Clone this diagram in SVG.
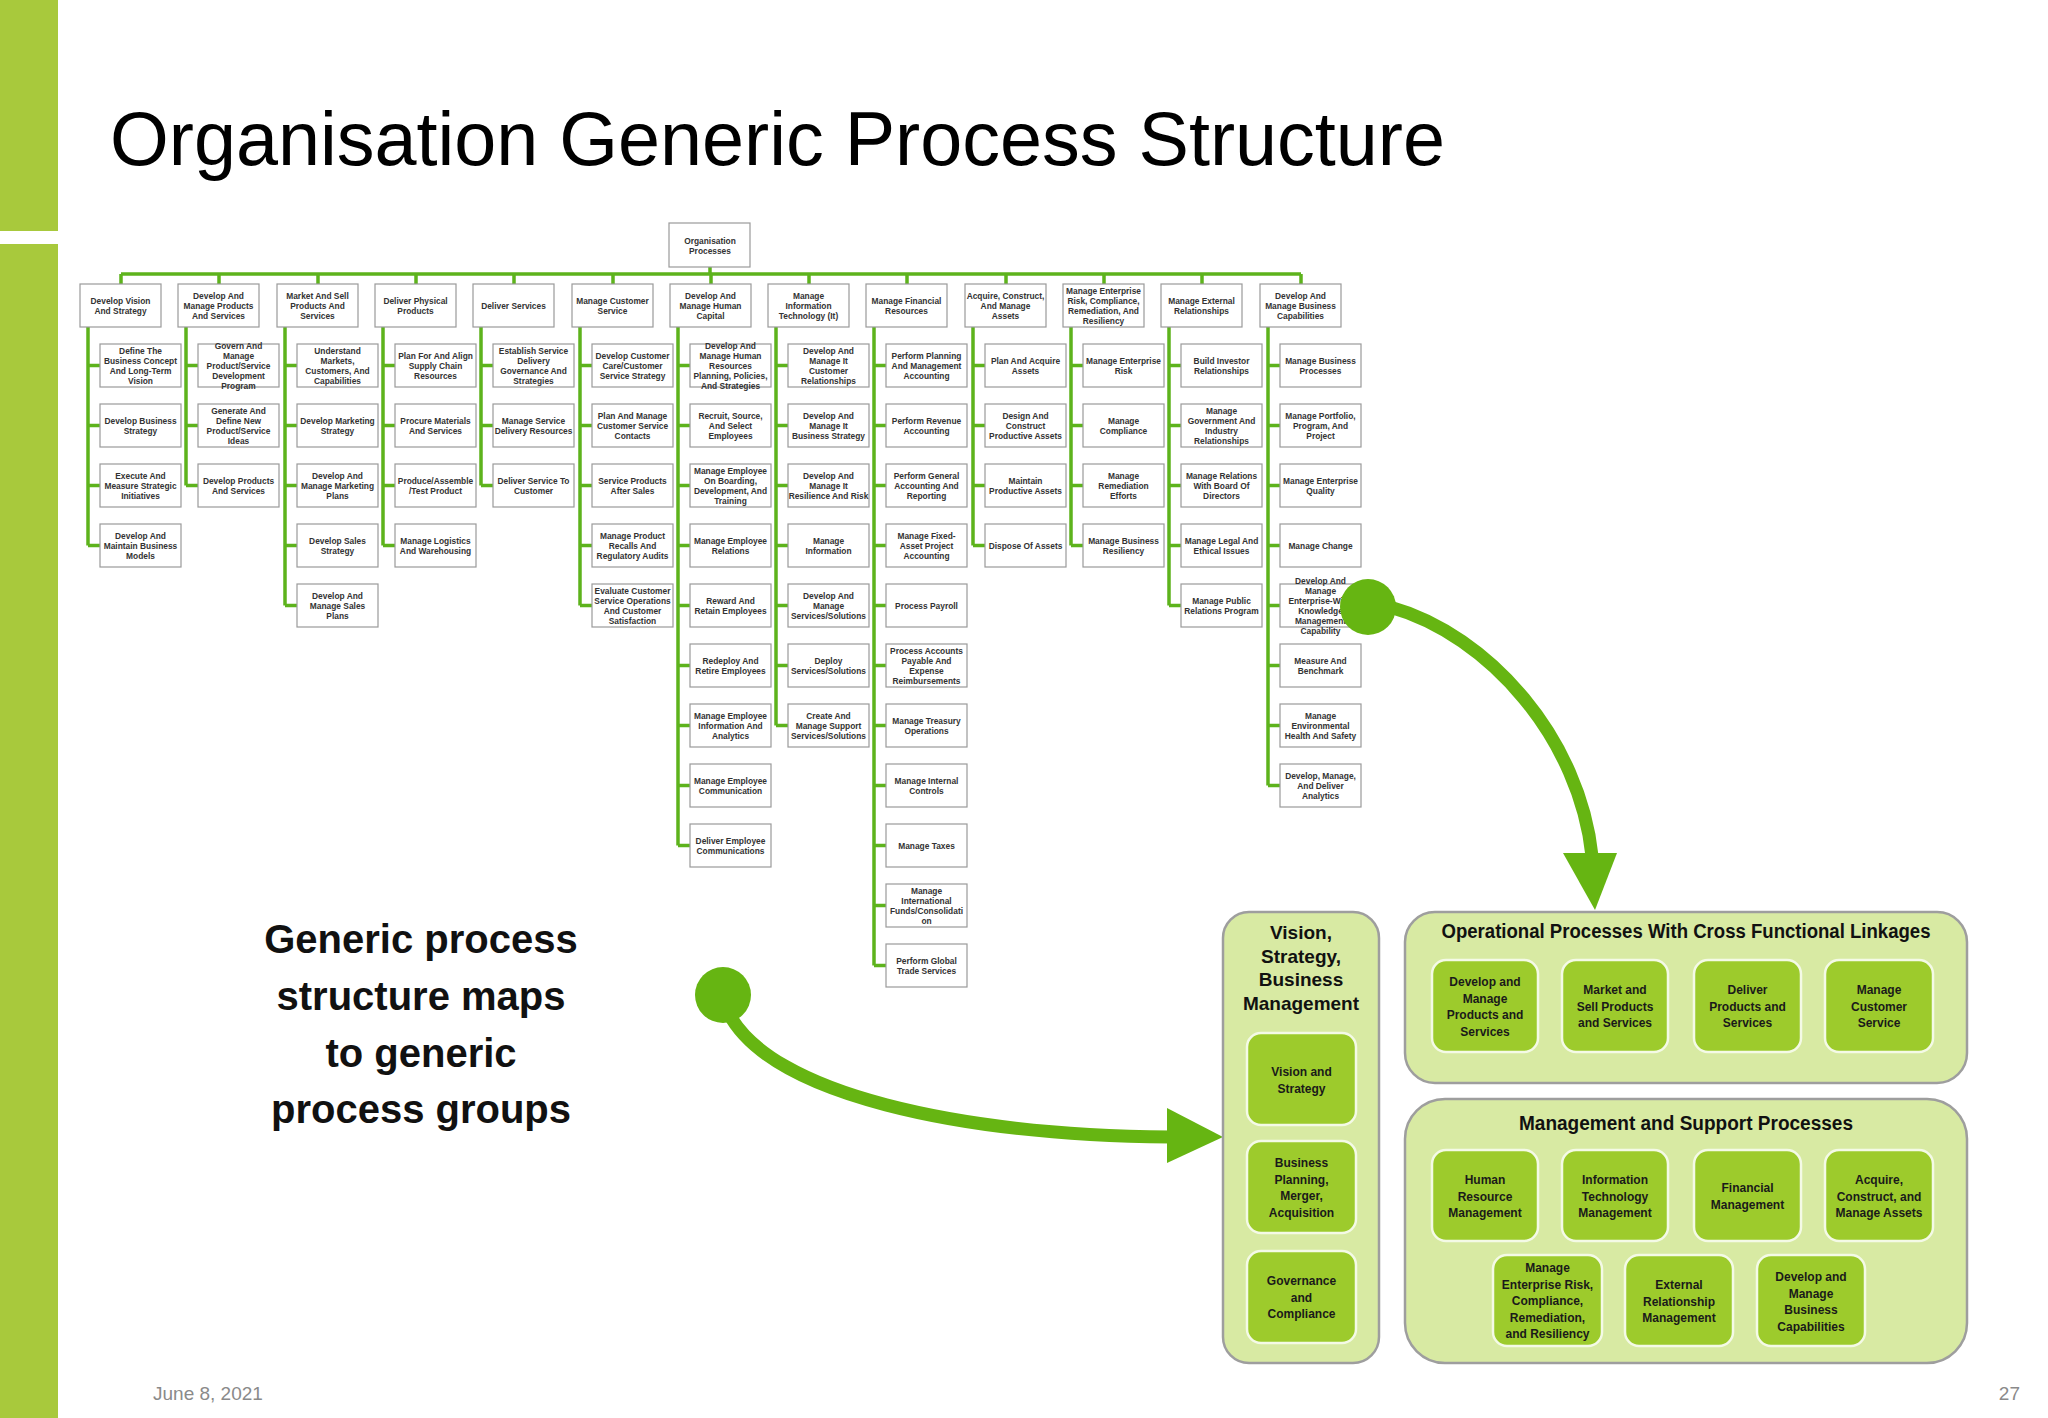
<svg xmlns="http://www.w3.org/2000/svg" width="2048" height="1418" viewBox="0 0 2048 1418">
<style>
.b{fill:#fff;stroke:#9a9a9a;stroke-width:1.2}
.t{font-family:"Liberation Sans",Arial,sans-serif;font-weight:bold;font-size:8.4px;fill:#333;text-anchor:middle}
.ln{fill:none;stroke:#5DB31C;stroke-width:3.5}
.p{fill:#D8EAA3;stroke:#9E9E9E;stroke-width:2.5}
.q{fill:#9DCB2C;stroke:#F4FAE6;stroke-width:2.5}
.h{font-family:"Liberation Sans",Arial,sans-serif;font-weight:bold;fill:#111;text-anchor:middle}
.i{font-family:"Liberation Sans",Arial,sans-serif;font-weight:bold;font-size:12px;fill:#1a1a1a;text-anchor:middle}
.ar{fill:none;stroke:#66B512;stroke-width:13}
</style>
<rect x="0" y="0" width="58" height="231" fill="#A8C93C"/>
<rect x="0" y="244" width="58" height="1174" fill="#A8C93C"/>
<text x="110" y="165" font-family="Liberation Sans,Arial,sans-serif" font-size="76" fill="#000" textLength="1335" lengthAdjust="spacingAndGlyphs">Organisation Generic Process Structure</text>

<g id="connectors">
<path class="ln" d="M710 267V274M121 274H1301M121 274V284M219 274V284M318 274V284M416 274V284M514 274V284M613 274V284M711 274V284M809 274V284M907 274V284M1006 274V284M1104 274V284M1202 274V284M1301 274V284"/>
<path class="ln" d="M88 327V545.5M88 365.5H100M88 425.5H100M88 485.5H100M88 545.5H100
M186 327V485.5M186 365.5H198M186 425.5H198M186 485.5H198
M285 327V605.5M285 365.5H297M285 425.5H297M285 485.5H297M285 545.5H297M285 605.5H297
M383 327V545.5M383 365.5H395M383 425.5H395M383 485.5H395M383 545.5H395
M481 327V485.5M481 365.5H493M481 425.5H493M481 485.5H493
M580 327V605.5M580 365.5H592M580 425.5H592M580 485.5H592M580 545.5H592M580 605.5H592
M678 327V845.5M678 365.5H690M678 425.5H690M678 485.5H690M678 545.5H690M678 605.5H690M678 665.5H690M678 725.5H690M678 785.5H690M678 845.5H690
M776 327V725.5M776 365.5H788M776 425.5H788M776 485.5H788M776 545.5H788M776 605.5H788M776 665.5H788M776 725.5H788
M874 327V965.5M874 365.5H886M874 425.5H886M874 485.5H886M874 545.5H886M874 605.5H886M874 665.5H886M874 725.5H886M874 785.5H886M874 845.5H886M874 905.5H886M874 965.5H886
M973 327V545.5M973 365.5H985M973 425.5H985M973 485.5H985M973 545.5H985
M1071 327V545.5M1071 365.5H1083M1071 425.5H1083M1071 485.5H1083M1071 545.5H1083
M1169 327V605.5M1169 365.5H1181M1169 425.5H1181M1169 485.5H1181M1169 545.5H1181M1169 605.5H1181
M1268 327V785.5M1268 365.5H1280M1268 425.5H1280M1268 485.5H1280M1268 545.5H1280M1268 605.5H1280M1268 665.5H1280M1268 725.5H1280M1268 785.5H1280"/>
</g>

<g id="root"><rect class="b" x="669" y="223" width="81" height="44"/><text class="t" y="243.5"><tspan x="710">Organisation</tspan><tspan x="710" dy="10">Processes</tspan></text></g>

<g id="c0"><rect class="b" x="80" y="284" width="81" height="43"/><text class="t" y="303.5"><tspan x="120.5">Develop Vision</tspan><tspan x="120.5" dy="10">And Strategy</tspan></text></g>
<g id="c0a"><rect class="b" x="100" y="344" width="81" height="43"/><text class="t" y="353.5"><tspan x="140.5">Define The</tspan><tspan x="140.5" dy="10">Business Concept</tspan><tspan x="140.5" dy="10">And Long-Term</tspan><tspan x="140.5" dy="10">Vision</tspan></text></g>
<g id="c0b"><rect class="b" x="100" y="404" width="81" height="43"/><text class="t" y="423.5"><tspan x="140.5">Develop Business</tspan><tspan x="140.5" dy="10">Strategy</tspan></text></g>
<g id="c0c"><rect class="b" x="100" y="464" width="81" height="43"/><text class="t" y="478.5"><tspan x="140.5">Execute And</tspan><tspan x="140.5" dy="10">Measure Strategic</tspan><tspan x="140.5" dy="10">Initiatives</tspan></text></g>
<g id="c0d"><rect class="b" x="100" y="524" width="81" height="43"/><text class="t" y="538.5"><tspan x="140.5">Develop And</tspan><tspan x="140.5" dy="10">Maintain Business</tspan><tspan x="140.5" dy="10">Models</tspan></text></g>
<g id="c1"><rect class="b" x="178" y="284" width="81" height="43"/><text class="t" y="298.5"><tspan x="218.5">Develop And</tspan><tspan x="218.5" dy="10">Manage Products</tspan><tspan x="218.5" dy="10">And Services</tspan></text></g>
<g id="c1a"><rect class="b" x="198" y="344" width="81" height="43"/><text class="t" y="348.5"><tspan x="238.5">Govern And</tspan><tspan x="238.5" dy="10">Manage</tspan><tspan x="238.5" dy="10">Product/Service</tspan><tspan x="238.5" dy="10">Development</tspan><tspan x="238.5" dy="10">Program</tspan></text></g>
<g id="c1b"><rect class="b" x="198" y="404" width="81" height="43"/><text class="t" y="413.5"><tspan x="238.5">Generate And</tspan><tspan x="238.5" dy="10">Define New</tspan><tspan x="238.5" dy="10">Product/Service</tspan><tspan x="238.5" dy="10">Ideas</tspan></text></g>
<g id="c1c"><rect class="b" x="198" y="464" width="81" height="43"/><text class="t" y="483.5"><tspan x="238.5">Develop Products</tspan><tspan x="238.5" dy="10">And Services</tspan></text></g>
<g id="c2"><rect class="b" x="277" y="284" width="81" height="43"/><text class="t" y="298.5"><tspan x="317.5">Market And Sell</tspan><tspan x="317.5" dy="10">Products And</tspan><tspan x="317.5" dy="10">Services</tspan></text></g>
<g id="c2a"><rect class="b" x="297" y="344" width="81" height="43"/><text class="t" y="353.5"><tspan x="337.5">Understand</tspan><tspan x="337.5" dy="10">Markets,</tspan><tspan x="337.5" dy="10">Customers, And</tspan><tspan x="337.5" dy="10">Capabilities</tspan></text></g>
<g id="c2b"><rect class="b" x="297" y="404" width="81" height="43"/><text class="t" y="423.5"><tspan x="337.5">Develop Marketing</tspan><tspan x="337.5" dy="10">Strategy</tspan></text></g>
<g id="c2c"><rect class="b" x="297" y="464" width="81" height="43"/><text class="t" y="478.5"><tspan x="337.5">Develop And</tspan><tspan x="337.5" dy="10">Manage Marketing</tspan><tspan x="337.5" dy="10">Plans</tspan></text></g>
<g id="c2d"><rect class="b" x="297" y="524" width="81" height="43"/><text class="t" y="543.5"><tspan x="337.5">Develop Sales</tspan><tspan x="337.5" dy="10">Strategy</tspan></text></g>
<g id="c2e"><rect class="b" x="297" y="584" width="81" height="43"/><text class="t" y="598.5"><tspan x="337.5">Develop And</tspan><tspan x="337.5" dy="10">Manage Sales</tspan><tspan x="337.5" dy="10">Plans</tspan></text></g>
<g id="c3"><rect class="b" x="375" y="284" width="81" height="43"/><text class="t" y="303.5"><tspan x="415.5">Deliver Physical</tspan><tspan x="415.5" dy="10">Products</tspan></text></g>
<g id="c3a"><rect class="b" x="395" y="344" width="81" height="43"/><text class="t" y="358.5"><tspan x="435.5">Plan For And Align</tspan><tspan x="435.5" dy="10">Supply Chain</tspan><tspan x="435.5" dy="10">Resources</tspan></text></g>
<g id="c3b"><rect class="b" x="395" y="404" width="81" height="43"/><text class="t" y="423.5"><tspan x="435.5">Procure Materials</tspan><tspan x="435.5" dy="10">And Services</tspan></text></g>
<g id="c3c"><rect class="b" x="395" y="464" width="81" height="43"/><text class="t" y="483.5"><tspan x="435.5">Produce/Assemble</tspan><tspan x="435.5" dy="10">/Test Product</tspan></text></g>
<g id="c3d"><rect class="b" x="395" y="524" width="81" height="43"/><text class="t" y="543.5"><tspan x="435.5">Manage Logistics</tspan><tspan x="435.5" dy="10">And Warehousing</tspan></text></g>
<g id="c4"><rect class="b" x="473" y="284" width="81" height="43"/><text class="t" y="308.5"><tspan x="513.5">Deliver Services</tspan></text></g>
<g id="c4a"><rect class="b" x="493" y="344" width="81" height="43"/><text class="t" y="353.5"><tspan x="533.5">Establish Service</tspan><tspan x="533.5" dy="10">Delivery</tspan><tspan x="533.5" dy="10">Governance And</tspan><tspan x="533.5" dy="10">Strategies</tspan></text></g>
<g id="c4b"><rect class="b" x="493" y="404" width="81" height="43"/><text class="t" y="423.5"><tspan x="533.5">Manage Service</tspan><tspan x="533.5" dy="10">Delivery Resources</tspan></text></g>
<g id="c4c"><rect class="b" x="493" y="464" width="81" height="43"/><text class="t" y="483.5"><tspan x="533.5">Deliver Service To</tspan><tspan x="533.5" dy="10">Customer</tspan></text></g>
<g id="c5"><rect class="b" x="572" y="284" width="81" height="43"/><text class="t" y="303.5"><tspan x="612.5">Manage Customer</tspan><tspan x="612.5" dy="10">Service</tspan></text></g>
<g id="c5a"><rect class="b" x="592" y="344" width="81" height="43"/><text class="t" y="358.5"><tspan x="632.5">Develop Customer</tspan><tspan x="632.5" dy="10">Care/Customer</tspan><tspan x="632.5" dy="10">Service Strategy</tspan></text></g>
<g id="c5b"><rect class="b" x="592" y="404" width="81" height="43"/><text class="t" y="418.5"><tspan x="632.5">Plan And Manage</tspan><tspan x="632.5" dy="10">Customer Service</tspan><tspan x="632.5" dy="10">Contacts</tspan></text></g>
<g id="c5c"><rect class="b" x="592" y="464" width="81" height="43"/><text class="t" y="483.5"><tspan x="632.5">Service Products</tspan><tspan x="632.5" dy="10">After Sales</tspan></text></g>
<g id="c5d"><rect class="b" x="592" y="524" width="81" height="43"/><text class="t" y="538.5"><tspan x="632.5">Manage Product</tspan><tspan x="632.5" dy="10">Recalls And</tspan><tspan x="632.5" dy="10">Regulatory Audits</tspan></text></g>
<g id="c5e"><rect class="b" x="592" y="584" width="81" height="43"/><text class="t" y="593.5"><tspan x="632.5">Evaluate Customer</tspan><tspan x="632.5" dy="10">Service Operations</tspan><tspan x="632.5" dy="10">And Customer</tspan><tspan x="632.5" dy="10">Satisfaction</tspan></text></g>
<g id="c6"><rect class="b" x="670" y="284" width="81" height="43"/><text class="t" y="298.5"><tspan x="710.5">Develop And</tspan><tspan x="710.5" dy="10">Manage Human</tspan><tspan x="710.5" dy="10">Capital</tspan></text></g>
<g id="c6a"><rect class="b" x="690" y="344" width="81" height="43"/><text class="t" y="348.5"><tspan x="730.5">Develop And</tspan><tspan x="730.5" dy="10">Manage Human</tspan><tspan x="730.5" dy="10">Resources</tspan><tspan x="730.5" dy="10">Planning, Policies,</tspan><tspan x="730.5" dy="10">And Strategies</tspan></text></g>
<g id="c6b"><rect class="b" x="690" y="404" width="81" height="43"/><text class="t" y="418.5"><tspan x="730.5">Recruit, Source,</tspan><tspan x="730.5" dy="10">And Select</tspan><tspan x="730.5" dy="10">Employees</tspan></text></g>
<g id="c6c"><rect class="b" x="690" y="464" width="81" height="43"/><text class="t" y="473.5"><tspan x="730.5">Manage Employee</tspan><tspan x="730.5" dy="10">On Boarding,</tspan><tspan x="730.5" dy="10">Development, And</tspan><tspan x="730.5" dy="10">Training</tspan></text></g>
<g id="c6d"><rect class="b" x="690" y="524" width="81" height="43"/><text class="t" y="543.5"><tspan x="730.5">Manage Employee</tspan><tspan x="730.5" dy="10">Relations</tspan></text></g>
<g id="c6e"><rect class="b" x="690" y="584" width="81" height="43"/><text class="t" y="603.5"><tspan x="730.5">Reward And</tspan><tspan x="730.5" dy="10">Retain Employees</tspan></text></g>
<g id="c6f"><rect class="b" x="690" y="644" width="81" height="43"/><text class="t" y="663.5"><tspan x="730.5">Redeploy And</tspan><tspan x="730.5" dy="10">Retire Employees</tspan></text></g>
<g id="c6g"><rect class="b" x="690" y="704" width="81" height="43"/><text class="t" y="718.5"><tspan x="730.5">Manage Employee</tspan><tspan x="730.5" dy="10">Information And</tspan><tspan x="730.5" dy="10">Analytics</tspan></text></g>
<g id="c6h"><rect class="b" x="690" y="764" width="81" height="43"/><text class="t" y="783.5"><tspan x="730.5">Manage Employee</tspan><tspan x="730.5" dy="10">Communication</tspan></text></g>
<g id="c6i"><rect class="b" x="690" y="824" width="81" height="43"/><text class="t" y="843.5"><tspan x="730.5">Deliver Employee</tspan><tspan x="730.5" dy="10">Communications</tspan></text></g>
<g id="c7"><rect class="b" x="768" y="284" width="81" height="43"/><text class="t" y="298.5"><tspan x="808.5">Manage</tspan><tspan x="808.5" dy="10">Information</tspan><tspan x="808.5" dy="10">Technology (It)</tspan></text></g>
<g id="c7a"><rect class="b" x="788" y="344" width="81" height="43"/><text class="t" y="353.5"><tspan x="828.5">Develop And</tspan><tspan x="828.5" dy="10">Manage It</tspan><tspan x="828.5" dy="10">Customer</tspan><tspan x="828.5" dy="10">Relationships</tspan></text></g>
<g id="c7b"><rect class="b" x="788" y="404" width="81" height="43"/><text class="t" y="418.5"><tspan x="828.5">Develop And</tspan><tspan x="828.5" dy="10">Manage It</tspan><tspan x="828.5" dy="10">Business Strategy</tspan></text></g>
<g id="c7c"><rect class="b" x="788" y="464" width="81" height="43"/><text class="t" y="478.5"><tspan x="828.5">Develop And</tspan><tspan x="828.5" dy="10">Manage It</tspan><tspan x="828.5" dy="10">Resilience And Risk</tspan></text></g>
<g id="c7d"><rect class="b" x="788" y="524" width="81" height="43"/><text class="t" y="543.5"><tspan x="828.5">Manage</tspan><tspan x="828.5" dy="10">Information</tspan></text></g>
<g id="c7e"><rect class="b" x="788" y="584" width="81" height="43"/><text class="t" y="598.5"><tspan x="828.5">Develop And</tspan><tspan x="828.5" dy="10">Manage</tspan><tspan x="828.5" dy="10">Services/Solutions</tspan></text></g>
<g id="c7f"><rect class="b" x="788" y="644" width="81" height="43"/><text class="t" y="663.5"><tspan x="828.5">Deploy</tspan><tspan x="828.5" dy="10">Services/Solutions</tspan></text></g>
<g id="c7g"><rect class="b" x="788" y="704" width="81" height="43"/><text class="t" y="718.5"><tspan x="828.5">Create And</tspan><tspan x="828.5" dy="10">Manage Support</tspan><tspan x="828.5" dy="10">Services/Solutions</tspan></text></g>
<g id="c8"><rect class="b" x="866" y="284" width="81" height="43"/><text class="t" y="303.5"><tspan x="906.5">Manage Financial</tspan><tspan x="906.5" dy="10">Resources</tspan></text></g>
<g id="c8a"><rect class="b" x="886" y="344" width="81" height="43"/><text class="t" y="358.5"><tspan x="926.5">Perform Planning</tspan><tspan x="926.5" dy="10">And Management</tspan><tspan x="926.5" dy="10">Accounting</tspan></text></g>
<g id="c8b"><rect class="b" x="886" y="404" width="81" height="43"/><text class="t" y="423.5"><tspan x="926.5">Perform Revenue</tspan><tspan x="926.5" dy="10">Accounting</tspan></text></g>
<g id="c8c"><rect class="b" x="886" y="464" width="81" height="43"/><text class="t" y="478.5"><tspan x="926.5">Perform General</tspan><tspan x="926.5" dy="10">Accounting And</tspan><tspan x="926.5" dy="10">Reporting</tspan></text></g>
<g id="c8d"><rect class="b" x="886" y="524" width="81" height="43"/><text class="t" y="538.5"><tspan x="926.5">Manage Fixed-</tspan><tspan x="926.5" dy="10">Asset Project</tspan><tspan x="926.5" dy="10">Accounting</tspan></text></g>
<g id="c8e"><rect class="b" x="886" y="584" width="81" height="43"/><text class="t" y="608.5"><tspan x="926.5">Process Payroll</tspan></text></g>
<g id="c8f"><rect class="b" x="886" y="644" width="81" height="43"/><text class="t" y="653.5"><tspan x="926.5">Process Accounts</tspan><tspan x="926.5" dy="10">Payable And</tspan><tspan x="926.5" dy="10">Expense</tspan><tspan x="926.5" dy="10">Reimbursements</tspan></text></g>
<g id="c8g"><rect class="b" x="886" y="704" width="81" height="43"/><text class="t" y="723.5"><tspan x="926.5">Manage Treasury</tspan><tspan x="926.5" dy="10">Operations</tspan></text></g>
<g id="c8h"><rect class="b" x="886" y="764" width="81" height="43"/><text class="t" y="783.5"><tspan x="926.5">Manage Internal</tspan><tspan x="926.5" dy="10">Controls</tspan></text></g>
<g id="c8i"><rect class="b" x="886" y="824" width="81" height="43"/><text class="t" y="848.5"><tspan x="926.5">Manage Taxes</tspan></text></g>
<g id="c8j"><rect class="b" x="886" y="884" width="81" height="43"/><text class="t" y="893.5"><tspan x="926.5">Manage</tspan><tspan x="926.5" dy="10">International</tspan><tspan x="926.5" dy="10">Funds/Consolidati</tspan><tspan x="926.5" dy="10">on</tspan></text></g>
<g id="c8k"><rect class="b" x="886" y="944" width="81" height="43"/><text class="t" y="963.5"><tspan x="926.5">Perform Global</tspan><tspan x="926.5" dy="10">Trade Services</tspan></text></g>
<g id="c9"><rect class="b" x="965" y="284" width="81" height="43"/><text class="t" y="298.5"><tspan x="1005.5">Acquire, Construct,</tspan><tspan x="1005.5" dy="10">And Manage</tspan><tspan x="1005.5" dy="10">Assets</tspan></text></g>
<g id="c9a"><rect class="b" x="985" y="344" width="81" height="43"/><text class="t" y="363.5"><tspan x="1025.5">Plan And Acquire</tspan><tspan x="1025.5" dy="10">Assets</tspan></text></g>
<g id="c9b"><rect class="b" x="985" y="404" width="81" height="43"/><text class="t" y="418.5"><tspan x="1025.5">Design And</tspan><tspan x="1025.5" dy="10">Construct</tspan><tspan x="1025.5" dy="10">Productive Assets</tspan></text></g>
<g id="c9c"><rect class="b" x="985" y="464" width="81" height="43"/><text class="t" y="483.5"><tspan x="1025.5">Maintain</tspan><tspan x="1025.5" dy="10">Productive Assets</tspan></text></g>
<g id="c9d"><rect class="b" x="985" y="524" width="81" height="43"/><text class="t" y="548.5"><tspan x="1025.5">Dispose Of Assets</tspan></text></g>
<g id="c10"><rect class="b" x="1063" y="284" width="81" height="43"/><text class="t" y="293.5"><tspan x="1103.5">Manage Enterprise</tspan><tspan x="1103.5" dy="10">Risk, Compliance,</tspan><tspan x="1103.5" dy="10">Remediation, And</tspan><tspan x="1103.5" dy="10">Resiliency</tspan></text></g>
<g id="c10a"><rect class="b" x="1083" y="344" width="81" height="43"/><text class="t" y="363.5"><tspan x="1123.5">Manage Enterprise</tspan><tspan x="1123.5" dy="10">Risk</tspan></text></g>
<g id="c10b"><rect class="b" x="1083" y="404" width="81" height="43"/><text class="t" y="423.5"><tspan x="1123.5">Manage</tspan><tspan x="1123.5" dy="10">Compliance</tspan></text></g>
<g id="c10c"><rect class="b" x="1083" y="464" width="81" height="43"/><text class="t" y="478.5"><tspan x="1123.5">Manage</tspan><tspan x="1123.5" dy="10">Remediation</tspan><tspan x="1123.5" dy="10">Efforts</tspan></text></g>
<g id="c10d"><rect class="b" x="1083" y="524" width="81" height="43"/><text class="t" y="543.5"><tspan x="1123.5">Manage Business</tspan><tspan x="1123.5" dy="10">Resiliency</tspan></text></g>
<g id="c11"><rect class="b" x="1161" y="284" width="81" height="43"/><text class="t" y="303.5"><tspan x="1201.5">Manage External</tspan><tspan x="1201.5" dy="10">Relationships</tspan></text></g>
<g id="c11a"><rect class="b" x="1181" y="344" width="81" height="43"/><text class="t" y="363.5"><tspan x="1221.5">Build Investor</tspan><tspan x="1221.5" dy="10">Relationships</tspan></text></g>
<g id="c11b"><rect class="b" x="1181" y="404" width="81" height="43"/><text class="t" y="413.5"><tspan x="1221.5">Manage</tspan><tspan x="1221.5" dy="10">Government And</tspan><tspan x="1221.5" dy="10">Industry</tspan><tspan x="1221.5" dy="10">Relationships</tspan></text></g>
<g id="c11c"><rect class="b" x="1181" y="464" width="81" height="43"/><text class="t" y="478.5"><tspan x="1221.5">Manage Relations</tspan><tspan x="1221.5" dy="10">With Board Of</tspan><tspan x="1221.5" dy="10">Directors</tspan></text></g>
<g id="c11d"><rect class="b" x="1181" y="524" width="81" height="43"/><text class="t" y="543.5"><tspan x="1221.5">Manage Legal And</tspan><tspan x="1221.5" dy="10">Ethical Issues</tspan></text></g>
<g id="c11e"><rect class="b" x="1181" y="584" width="81" height="43"/><text class="t" y="603.5"><tspan x="1221.5">Manage Public</tspan><tspan x="1221.5" dy="10">Relations Program</tspan></text></g>
<g id="c12"><rect class="b" x="1260" y="284" width="81" height="43"/><text class="t" y="298.5"><tspan x="1300.5">Develop And</tspan><tspan x="1300.5" dy="10">Manage Business</tspan><tspan x="1300.5" dy="10">Capabilities</tspan></text></g>
<g id="c12a"><rect class="b" x="1280" y="344" width="81" height="43"/><text class="t" y="363.5"><tspan x="1320.5">Manage Business</tspan><tspan x="1320.5" dy="10">Processes</tspan></text></g>
<g id="c12b"><rect class="b" x="1280" y="404" width="81" height="43"/><text class="t" y="418.5"><tspan x="1320.5">Manage Portfolio,</tspan><tspan x="1320.5" dy="10">Program, And</tspan><tspan x="1320.5" dy="10">Project</tspan></text></g>
<g id="c12c"><rect class="b" x="1280" y="464" width="81" height="43"/><text class="t" y="483.5"><tspan x="1320.5">Manage Enterprise</tspan><tspan x="1320.5" dy="10">Quality</tspan></text></g>
<g id="c12d"><rect class="b" x="1280" y="524" width="81" height="43"/><text class="t" y="548.5"><tspan x="1320.5">Manage Change</tspan></text></g>
<g id="c12e"><rect class="b" x="1280" y="584" width="81" height="43"/><text class="t" y="583.5"><tspan x="1320.5">Develop And</tspan><tspan x="1320.5" dy="10">Manage</tspan><tspan x="1320.5" dy="10">Enterprise-Wide</tspan><tspan x="1320.5" dy="10">Knowledge</tspan><tspan x="1320.5" dy="10">Management</tspan><tspan x="1320.5" dy="10">Capability</tspan></text></g>
<g id="c12f"><rect class="b" x="1280" y="644" width="81" height="43"/><text class="t" y="663.5"><tspan x="1320.5">Measure And</tspan><tspan x="1320.5" dy="10">Benchmark</tspan></text></g>
<g id="c12g"><rect class="b" x="1280" y="704" width="81" height="43"/><text class="t" y="718.5"><tspan x="1320.5">Manage</tspan><tspan x="1320.5" dy="10">Environmental</tspan><tspan x="1320.5" dy="10">Health And Safety</tspan></text></g>
<g id="c12h"><rect class="b" x="1280" y="764" width="81" height="43"/><text class="t" y="778.5"><tspan x="1320.5">Develop, Manage,</tspan><tspan x="1320.5" dy="10">And Deliver</tspan><tspan x="1320.5" dy="10">Analytics</tspan></text></g>

<text class="h" font-size="40" y="953"><tspan x="421">Generic process</tspan><tspan x="421" dy="57">structure maps</tspan><tspan x="421" dy="57">to generic</tspan><tspan x="421" dy="56">process groups</tspan></text>

<g id="arrows">
<path class="ar" d="M728 1012 C770 1095 960 1135 1170 1137"/>
<polygon points="1167,1108 1223,1137 1167,1163" fill="#66B512"/>
<circle cx="723" cy="995" r="28" fill="#66B512"/>
<path class="ar" d="M1390 607 C1490 635 1580 740 1592 856"/>
<polygon points="1563,853 1617,853 1595,910" fill="#66B512"/>
<circle cx="1368" cy="607" r="28" fill="#66B512"/>
</g>

<g id="vision-panel">
<rect class="p" x="1223" y="912" width="156" height="451" rx="26"/>
<text class="h" font-size="19" y="939"><tspan x="1301">Vision,</tspan><tspan x="1301" dy="23.5">Strategy,</tspan><tspan x="1301" dy="23.5">Business</tspan><tspan x="1301" dy="23.5">Management</tspan></text>
</g>
<g id="v1"><rect class="q" x="1247" y="1033" width="109" height="92" rx="14"/><text class="i" y="1076"><tspan x="1301.5">Vision and</tspan><tspan x="1301.5" dy="16.5">Strategy</tspan></text></g>
<g id="v2"><rect class="q" x="1247" y="1141" width="109" height="92" rx="14"/><text class="i" y="1167"><tspan x="1301.5">Business</tspan><tspan x="1301.5" dy="16.5">Planning,</tspan><tspan x="1301.5" dy="16.5">Merger,</tspan><tspan x="1301.5" dy="16.5">Acquisition</tspan></text></g>
<g id="v3"><rect class="q" x="1247" y="1251" width="109" height="92" rx="14"/><text class="i" y="1285"><tspan x="1301.5">Governance</tspan><tspan x="1301.5" dy="16.5">and</tspan><tspan x="1301.5" dy="16.5">Compliance</tspan></text></g>

<g id="operational-panel">
<rect class="p" x="1405" y="912" width="562" height="171" rx="30"/>
<text class="h" font-size="20" x="1686" y="938" textLength="489" lengthAdjust="spacingAndGlyphs">Operational Processes With Cross Functional Linkages</text>
</g>
<g id="o1"><rect class="q" x="1432" y="960" width="106" height="92" rx="14"/><text class="i" y="986"><tspan x="1485">Develop and</tspan><tspan x="1485" dy="16.5">Manage</tspan><tspan x="1485" dy="16.5">Products and</tspan><tspan x="1485" dy="16.5">Services</tspan></text></g>
<g id="o2"><rect class="q" x="1562" y="960" width="106" height="92" rx="14"/><text class="i" y="994"><tspan x="1615">Market and</tspan><tspan x="1615" dy="16.5">Sell Products</tspan><tspan x="1615" dy="16.5">and Services</tspan></text></g>
<g id="o3"><rect class="q" x="1694" y="960" width="107" height="92" rx="14"/><text class="i" y="994"><tspan x="1747.5">Deliver</tspan><tspan x="1747.5" dy="16.5">Products and</tspan><tspan x="1747.5" dy="16.5">Services</tspan></text></g>
<g id="o4"><rect class="q" x="1825" y="960" width="108" height="92" rx="14"/><text class="i" y="994"><tspan x="1879">Manage</tspan><tspan x="1879" dy="16.5">Customer</tspan><tspan x="1879" dy="16.5">Service</tspan></text></g>

<g id="support-panel">
<rect class="p" x="1405" y="1099" width="562" height="264" rx="40"/>
<text class="h" font-size="20" x="1686" y="1130" textLength="334" lengthAdjust="spacingAndGlyphs">Management and Support Processes</text>
</g>
<g id="s1"><rect class="q" x="1432" y="1150" width="106" height="91" rx="14"/><text class="i" y="1184"><tspan x="1485">Human</tspan><tspan x="1485" dy="16.5">Resource</tspan><tspan x="1485" dy="16.5">Management</tspan></text></g>
<g id="s2"><rect class="q" x="1562" y="1150" width="106" height="91" rx="14"/><text class="i" y="1184"><tspan x="1615">Information</tspan><tspan x="1615" dy="16.5">Technology</tspan><tspan x="1615" dy="16.5">Management</tspan></text></g>
<g id="s3"><rect class="q" x="1694" y="1150" width="107" height="91" rx="14"/><text class="i" y="1192"><tspan x="1747.5">Financial</tspan><tspan x="1747.5" dy="16.5">Management</tspan></text></g>
<g id="s4"><rect class="q" x="1825" y="1150" width="108" height="91" rx="14"/><text class="i" y="1184"><tspan x="1879">Acquire,</tspan><tspan x="1879" dy="16.5">Construct, and</tspan><tspan x="1879" dy="16.5">Manage Assets</tspan></text></g>
<g id="s5"><rect class="q" x="1493" y="1255" width="109" height="91" rx="14"/><text class="i" y="1272"><tspan x="1547.5">Manage</tspan><tspan x="1547.5" dy="16.5">Enterprise Risk,</tspan><tspan x="1547.5" dy="16.5">Compliance,</tspan><tspan x="1547.5" dy="16.5">Remediation,</tspan><tspan x="1547.5" dy="16.5">and Resiliency</tspan></text></g>
<g id="s6"><rect class="q" x="1625" y="1255" width="108" height="91" rx="14"/><text class="i" y="1289"><tspan x="1679">External</tspan><tspan x="1679" dy="16.5">Relationship</tspan><tspan x="1679" dy="16.5">Management</tspan></text></g>
<g id="s7"><rect class="q" x="1757" y="1255" width="108" height="91" rx="14"/><text class="i" y="1281"><tspan x="1811">Develop and</tspan><tspan x="1811" dy="16.5">Manage</tspan><tspan x="1811" dy="16.5">Business</tspan><tspan x="1811" dy="16.5">Capabilities</tspan></text></g>

<text x="153" y="1400" font-family="Liberation Sans,Arial,sans-serif" font-size="19" fill="#8a8a8a">June 8, 2021</text>
<text x="2020" y="1400" font-family="Liberation Sans,Arial,sans-serif" font-size="19" fill="#8a8a8a" text-anchor="end">27</text>
</svg>
